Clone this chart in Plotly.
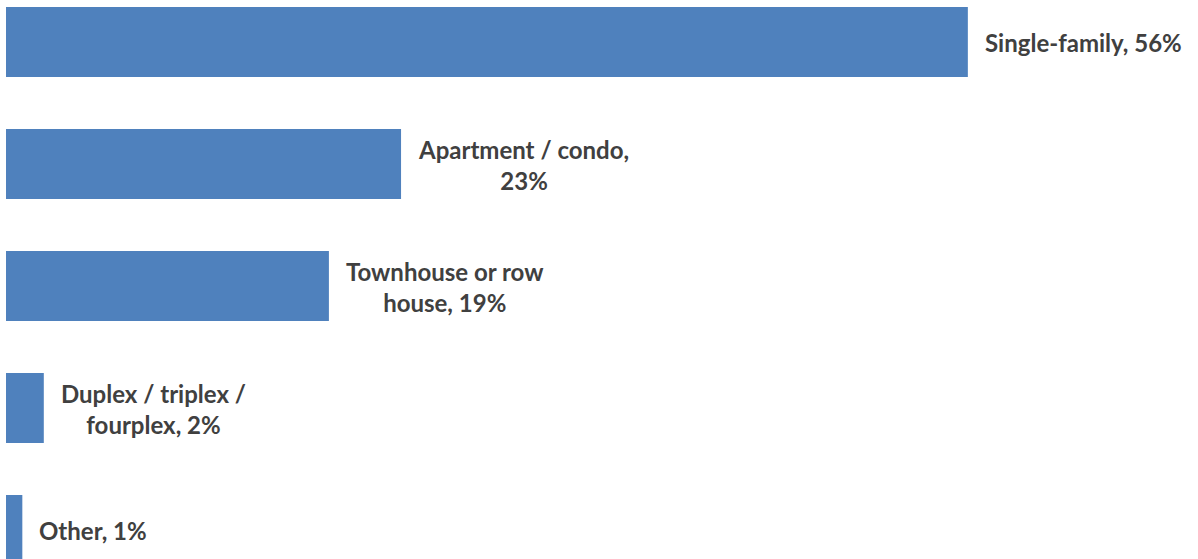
import plotly.graph_objects as go

categories = ["Single-family", "Apartment / condo", "Townhouse or row house",
              "Duplex / triplex / fourplex", "Other"]
values = [56.0, 23.0, 18.8, 2.2, 0.95]
labels = ["Single-family, 56%", "Apartment / condo,<br>23%", "Townhouse or row<br>house, 19%",
          "Duplex / triplex /<br>fourplex, 2%", "Other, 1%"]

fig = go.Figure(go.Bar(
    x=values, y=categories, orientation="h",
    marker=dict(color="#4F81BD", line=dict(width=0)),
    width=0.574, hoverinfo="skip",
))

for c, v, t in zip(categories, values, labels):
    fig.add_annotation(x=v, y=c, text=t, showarrow=False, xanchor="left", xshift=15,
                       yshift=-1, align="center",
                       font=dict(family="Lato", size=24, color="#404040", weight="bold"))

fig.update_layout(
    width=1198, height=559,
    margin=dict(l=0, r=0, t=0, b=0),
    plot_bgcolor="white", paper_bgcolor="white",
    showlegend=False,
    xaxis=dict(range=[-0.35, 69.4], visible=False),
    yaxis=dict(range=[4.238, -0.344], visible=False, categoryorder="array",
               categoryarray=categories),
)
fig.write_html("out.html", config={"displayModeBar": False},
               post_script="document.body.style.margin='0';document.body.style.overflow='hidden';")
